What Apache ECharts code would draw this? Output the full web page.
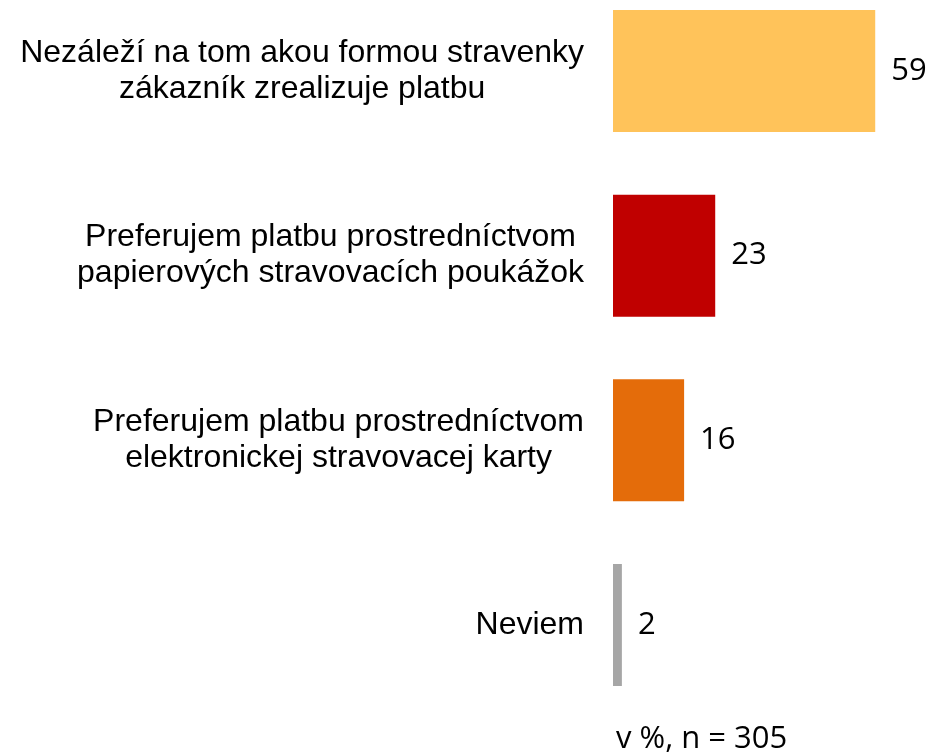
<!DOCTYPE html>
<html>
<head>
<meta charset="utf-8">
<script src="https://cdn.jsdelivr.net/npm/echarts@6/dist/echarts.min.js"></script>
<style>html,body{margin:0;padding:0;background:#fff;}#chart{width:933px;height:754px;}</style>
</head>
<body>
<div id="chart"></div>
<script>
var categories = [
  'Nezáleží na tom akou formou stravenky\nzákazník zrealizuje platbu',
  'Preferujem platbu prostredníctvom\npapierových stravovacích poukážok',
  'Preferujem platbu prostredníctvom\nelektronickej stravovacej karty',
  'Neviem'
];
var values = [59, 23, 16, 2];
var colors = ['#FFC35A', '#C00000', '#E46C0A', '#A6A6A6'];
var footnote = 'v %, n = 305';

var chart = echarts.init(document.getElementById('chart'));
chart.setOption({
  animation: false,
  backgroundColor: '#ffffff',
  title: {
    text: footnote,
    left: 616,
    top: 721,
    padding: 0,
    textStyle: { fontFamily: 'Open Sans', fontSize: 31, fontWeight: 'normal', color: '#000', lineHeight: 36 }
  },
  grid: { left: 613, width: 320, top: 71, height: 554, containLabel: false },
  xAxis: {
    type: 'value', min: 0, max: 72,
    show: false
  },
  yAxis: {
    type: 'category',
    inverse: true,
    boundaryGap: false,
    data: categories,
    axisLine: { show: false },
    axisTick: { show: false },
    splitLine: { show: false },
    axisLabel: {
      margin: 29,
      align: 'right',
      formatter: function (v) {
        return v.split('\n').map(function (l) { return '{a|' + l + '}'; }).join('\n');
      },
      rich: {
        a: { fontFamily: 'Liberation Sans', fontSize: 32, lineHeight: 36, color: '#000', align: 'center' }
      }
    }
  },
  series: [{
    type: 'bar',
    barWidth: 122,
    data: values.map(function (v, i) { return { value: v, itemStyle: { color: colors[i] } }; }),
    label: {
      show: true,
      position: 'right',
      distance: 16,
      fontFamily: 'Open Sans',
      fontSize: 31,
      color: '#000'
    }
  }]
});
</script>
</body>
</html>
